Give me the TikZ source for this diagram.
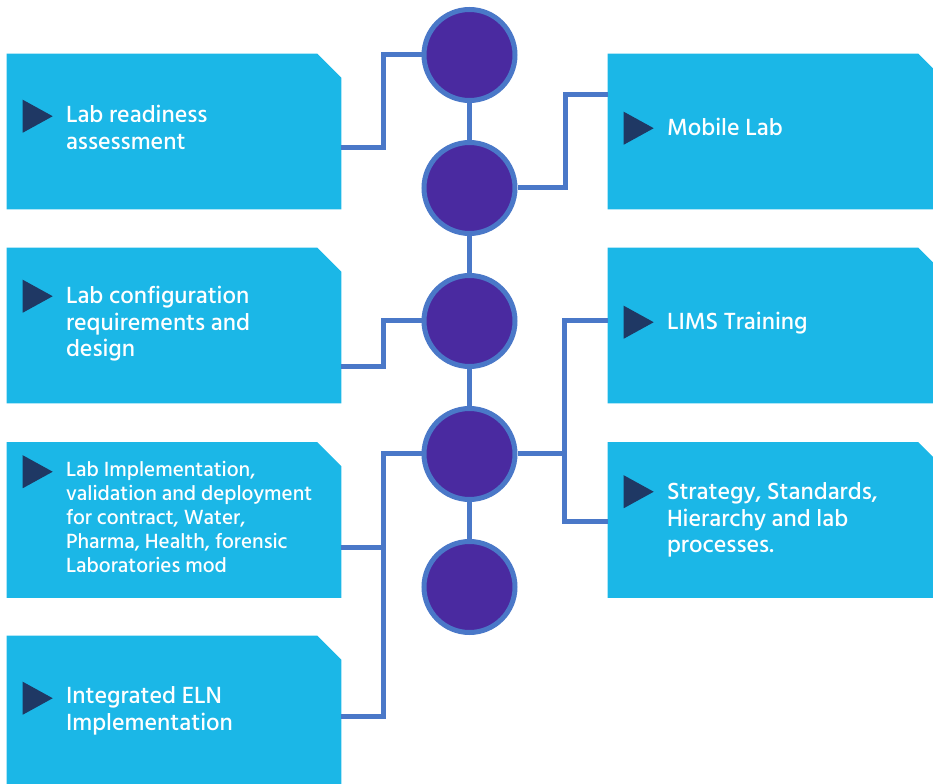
\documentclass[tikz,border=0pt]{standalone}
\usepackage{fontspec}
\setmainfont{Hind Siliguri Medium}
\usetikzlibrary{calc}
\definecolor{cardblue}{RGB}{27,183,231}
\definecolor{dotfill}{RGB}{74,42,160}
\definecolor{linkblue}{RGB}{74,120,200}
\definecolor{markblue}{RGB}{31,56,100}
% triangle mark at the start of a card text
\newcommand{\cardmark}[2]{\fill[markblue] ($(#1.north west)+(16,#2)$) -- ++(30,16.5) -- ++(-30,16.5) -- cycle;}

\begin{document}
\begin{tikzpicture}[x=0.75pt,y=-0.75pt,
  card/.style={rectangle, minimum width=250.5pt, minimum height=116.25pt, inner sep=0pt},
  dot/.style={circle, fill=dotfill, draw=linkblue, line width=3.75pt,
    minimum size=68.25pt, inner sep=0pt},
  link/.style={draw=linkblue, line width=3.75pt},
  cardtext/.style={anchor=north west, inner sep=0pt, align=left, text=white,
    font=\fontsize{18}{20}\selectfont},
  smalltext/.style={cardtext, font=\fontsize{15.8}{18}\selectfont}]
\clip (0,0) rectangle (933,784);

% cards
\node[card] (l1) at (174,131.5) {};
\node[card] (l2) at (174,325.5) {};
\node[card] (l3) at (174,520) {};
\node[card] (l4) at (174,713.5) {};
\node[card] (r1) at (775,131.5) {};
\node[card] (r2) at (775,325.5) {};
\node[card] (r3) at (775,520) {};
\foreach \n in {l1,l2,l3,l4,r1,r2,r3}
  \fill[cardblue] (\n.south west) -- (\n.north west) -- ($(\n.north east)+(-24,0)$)
    -- ($(\n.north east)+(0,24)$) -- (\n.south east) -- cycle;

% milestones
\foreach \i/\y in {1/55,2/188,3/321,4/454,5/587}
  \node[dot] (c\i) at (469.5,\y) {};
\foreach \i [evaluate=\i as \j using int(\i+1)] in {1,...,4}
  \draw[link] (c\i.south) -- (c\j.north);

% connectors
\draw[link] ($(l1.east)+(0,16.5)$) -| ($(c1.west)+(-38,0)$) -- (c1.west);
\draw[link] (c2.east) -- ++(48,0) |- ($(r1.west)+(0,-36.5)$);
\draw[link] ($(l2.east)+(0,41.5)$) -| ($(c3.west)+(-38,0)$) -- (c3.west);
\draw[link] (c4.west) -| ($(l4.east)+(42,2.5)$) -- ($(l4.east)+(0,2.5)$);
\draw[link] ($(l3.east)+(0,28)$) -- ++(42,0);
\draw[link] ($(r2.west)+(0,-4.5)$) -| ($(r3.west)+(-43,2)$) -- ($(r3.west)+(0,2)$);
\draw[link] (c4.east) -- ++(48,0);

% texts
\cardmark{l1}{46}
\node[cardtext] (t1) at ($(l1.north west)+(59,51)$) {Lab readiness\\assessment};
\cardmark{l2}{32}
\node[cardtext] (t2) at ($(l2.north west)+(59,38)$) {Lab configuration\\requirements and\\design};
\cardmark{l3}{13}
\node[smalltext] (t3) at ($(l3.north west)+(59,19)$) {Lab Implementation,\\validation and deployment\\for contract, Water,\\Pharma, Health, forensic\\Laboratories mod};
\cardmark{l4}{46}
\node[cardtext] (t4) at ($(l4.north west)+(59,51)$) {Integrated ELN\\Implementation};
\cardmark{r1}{58}
\node[cardtext] (t5) at ($(r1.north west)+(59,64)$) {Mobile Lab};
\cardmark{r2}{58}
\node[cardtext] (t6) at ($(r2.north west)+(59,64)$) {LIMS Training};
\cardmark{r3}{33}
\node[cardtext] (t7) at ($(r3.north west)+(59,40)$) {Strategy, Standards,\\Hierarchy and lab\\processes.};
\end{tikzpicture}
\end{document}
